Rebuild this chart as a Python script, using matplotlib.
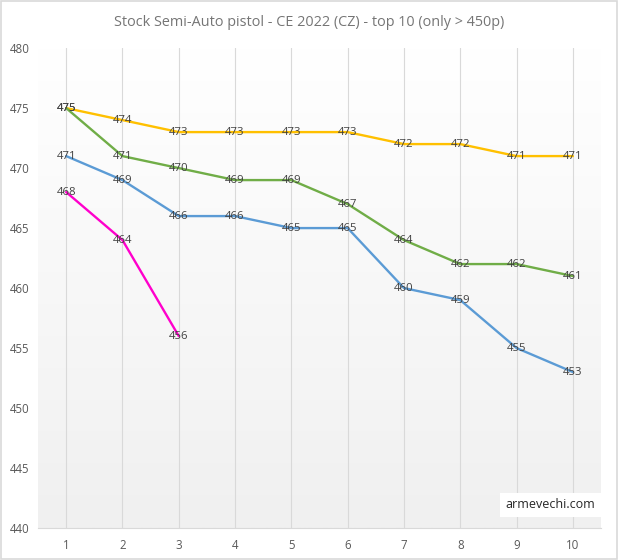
import numpy as np
import matplotlib
matplotlib.use("Agg")
import matplotlib.pyplot as plt
from matplotlib.patches import Rectangle

x_labels = ["1", "2", "3", "4", "5", "6", "7", "8", "9", "10"]
yellow = [475, 474, 473, 473, 473, 473, 472, 472, 471, 471]
green = [475, 471, 470, 469, 469, 467, 464, 462, 462, 461]
blue = [471, 469, 466, 466, 465, 465, 460, 459, 455, 453]
magenta = [468, 464, 456]
series = [(yellow, "#FFC000"), (green, "#70AD47"), (blue, "#5B9BD5"), (magenta, "#FF00CC")]
title = "Stock Semi-Auto pistol - CE 2022 (CZ) - top 10 (only > 450p)"
y_ticks = [440, 445, 450, 455, 460, 465, 470, 475, 480]

plt.rcParams['font.family'] = ['Open Sans', 'DejaVu Sans']

fig = plt.figure(figsize=(6.18, 5.6), dpi=100)
fig.patch.set_facecolor("white")
fig.add_artist(Rectangle((0.001, 0.001), 0.997, 0.997, transform=fig.transFigure,
                         fill=False, edgecolor="#d9d9d9", linewidth=1.2))
ax = fig.add_axes([0.0615, 0.0571, 0.911, 0.857])

# gradient background
grad = np.linspace(1, 0, 256).reshape(-1, 1)
top = np.array([1.0, 1.0, 1.0])
bot = np.array([0xf0, 0xf0, 0xf0]) / 255
img = top * grad[..., None] + bot * (1 - grad[..., None])
img = img.reshape(256, 1, 3)
ax.imshow(img, extent=[0.5, 10.5, 440, 480], aspect="auto", zorder=0, origin="upper")

xs = np.arange(1, 11)
for vals, col in series:
    xx = xs[:len(vals)]
    ax.plot(xx, vals, color=col, linewidth=1.7, zorder=3, solid_capstyle="round")
    for xi, v in zip(xx, vals):
        ax.text(xi, v, str(v), ha="center", va="center", fontsize=8.2, color="#404040", zorder=4)

ax.set_xlim(0.5, 10.5)
ax.set_ylim(440, 480)
ax.set_xticks(xs)
ax.set_xticklabels(x_labels)
ax.set_yticks(y_ticks)
ax.tick_params(axis="both", length=0, labelsize=8.3, colors="#595959")
ax.tick_params(axis="y", pad=6)
ax.tick_params(axis="x", pad=8)
ax.grid(axis="x", color="#d9d9d9", linewidth=0.8, zorder=1)
ax.set_axisbelow(True)
for s in ["top", "right", "left"]:
    ax.spines[s].set_visible(False)
ax.spines["bottom"].set_color("#d9d9d9")

fig.text(0.5, 0.96, title, ha="center", va="center", fontsize=10.4, color="#757575")

ax.text(0.99, 0.035, "armevechi.com", transform=ax.transAxes, ha="right", va="bottom",
        fontsize=9, color="#262626", zorder=5,
        bbox=dict(boxstyle="square,pad=0.45", facecolor="white", edgecolor="none"))

fig.savefig("out.png", dpi=100)
